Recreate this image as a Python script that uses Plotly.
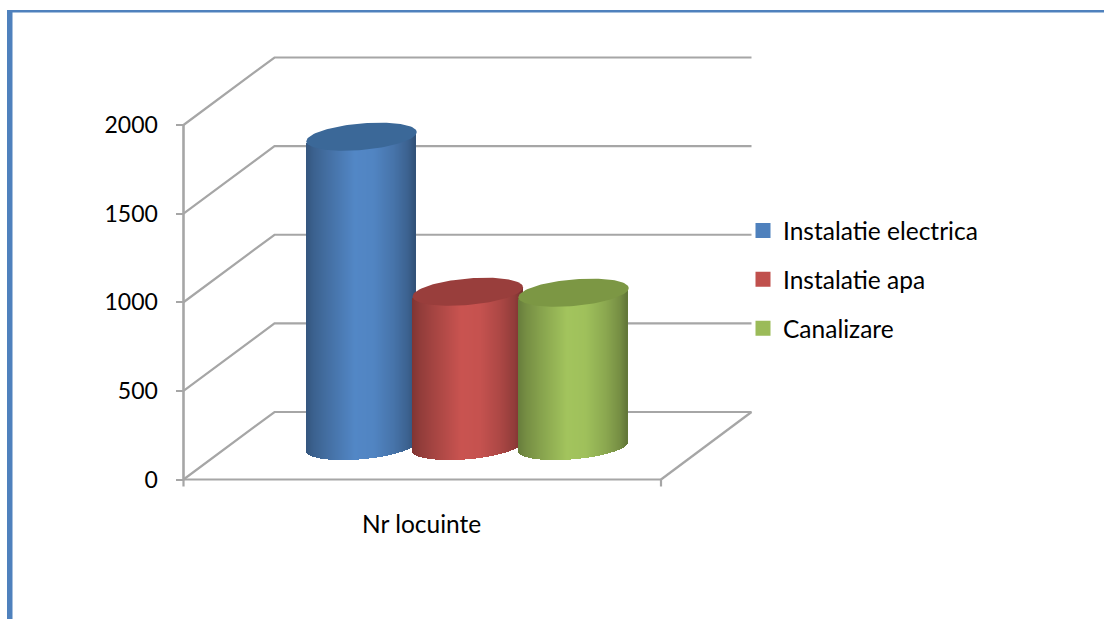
import numpy as np
import plotly.graph_objects as go

# ---- data ----
categories = ["Nr locuinte"]
series_names = ["Instalatie electrica", "Instalatie apa", "Canalizare"]
series_values = [1745, 870, 865]
y_ticks = [0, 500, 1000, 1500, 2000]

# ---- styles ----
side_colors = ["#4f81bd", "#c0504d", "#9bbb59"]
cap_colors = ["#3b6898", "#993e3c", "#7c9744"]
GRID = "#a6a6a6"
FRAME = "#4f81bd"
FONT = "Lato"
W, H = 1104, 619

# ---- geometry of the fake-3D box (x axis is in pixels, y axis in data units) ----
PX = 0.17725            # pixels per data unit
Y0 = 479.5              # pixel row of value 0
X_L, X_R = 183.5, 661
DX, DV = 91, 67.5 / PX  # depth shift of the back wall
CENTERS = [361.5, 467.75, 573.5]
A = 55.25               # cylinder half width, px
B, K = 13.3 / PX, 4.6 / PX  # ellipse half height / tilt in data units
V_MID = 33.5 / PX       # cylinder stands half way in depth

fig = go.Figure()

def line(xs, ys, width=2.2):
    fig.add_trace(go.Scatter(x=xs, y=ys, mode="lines", line=dict(color=GRID, width=width),
                             hoverinfo="skip", showlegend=False, cliponaxis=False))

# back wall + left wall lines
for v in y_ticks:
    line([X_L, X_L + DX, X_L + DX + 477], [v, v + DV, v + DV])
# floor
line([X_L + DX + 477, X_R], [DV, 0])
line([X_L, X_R], [0, 0])
line([X_L, X_L], [0, 2000], 2.6)
line([X_R, X_R], [0, -7 / PX])
line([X_L, X_L], [0, -7 / PX])

shade_pos = [0.0, 0.08, 0.2, 0.45, 0.62, 0.8, 0.93, 1.0]
shade_val = [0.66, 0.76, 0.86, 1.05, 1.03, 0.9, 0.76, 0.62]

def shade(hex_color, f):
    rgb = [int(hex_color[i:i + 2], 16) for i in (1, 3, 5)]
    return "rgb(%d,%d,%d)" % tuple(min(255, int(c * f)) for c in rgb)

# cylinders live on an overlaying pair of axes so that they cover the grid lines
for name, value, cx, side, cap in zip(series_names, series_values, CENTERS, side_colors, cap_colors):
    xs = np.arange(np.ceil(cx - A), np.floor(cx + A)) + 0.5
    u = np.clip((xs - cx) / A, -1, 1)
    lean = K * u                     # right side of the ellipse is higher
    bow = B * np.sqrt(1 - u ** 2)
    lower = V_MID + lean - bow       # front edge of the foot
    upper = value + V_MID + lean - bow + 1 / PX  # front edge of the top, under the cap
    colors = [shade(side, f) for f in np.interp((u + 1) / 2, shade_pos, shade_val)]
    fig.add_trace(go.Bar(x=xs, y=upper - lower, base=lower, width=1.02,
                         xaxis="x2", yaxis="y2",
                         marker=dict(color=colors, line=dict(width=0)),
                         hoverinfo="skip", showlegend=False))
    t = np.linspace(0, 2 * np.pi, 121)
    fig.add_trace(go.Scatter(x=cx + A * np.cos(t),
                             y=value + V_MID + K * np.cos(t) + B * np.sin(t),
                             xaxis="x2", yaxis="y2",
                             mode="lines", fill="toself", fillcolor=cap,
                             line=dict(width=0), hoverinfo="skip", showlegend=False))
    # legend entry
    fig.add_trace(go.Bar(x=[None], y=[None], name=name, legendgroup=name,
                         xaxis="x2", yaxis="y2",
                         marker=dict(color=side, line=dict(color=side, width=3))))

fig.add_annotation(x=(X_L + X_R) / 2 - 0.5, y=-44 / PX, text=categories[0], showarrow=False,
                   font=dict(family=FONT, size=24.5, color="black"), xanchor="center", yanchor="middle")

# frame
fig.add_shape(type="line", xref="paper", yref="paper", x0=9.75 / W, x1=9.75 / W, y0=0, y1=1 - 10 / H,
              line=dict(color=FRAME, width=5.5))
fig.add_shape(type="line", xref="paper", yref="paper", x0=7 / W, x1=1, y0=1 - 11.25 / H, y1=1 - 11.25 / H,
              line=dict(color=FRAME, width=2.5))

y_range = [-(H - Y0) / PX, Y0 / PX]
fig.update_layout(
    width=W, height=H, autosize=False,
    margin=dict(l=0, r=0, t=0, b=0),
    paper_bgcolor="white", plot_bgcolor="rgba(0,0,0,0)",
    barmode="overlay", bargap=0,
    font=dict(family=FONT, size=24.5, color="black"),
    showlegend=True,
    legend=dict(x=743 / W, y=1 - 208 / H, xanchor="left", yanchor="top", bgcolor="rgba(0,0,0,0)",
                tracegroupgap=14, font=dict(family=FONT, size=24.5, color="black"),
                itemclick=False, itemdoubleclick=False),
    xaxis=dict(range=[0, W], visible=False, fixedrange=True),
    xaxis2=dict(range=[0, W], visible=False, fixedrange=True, overlaying="x"),
    yaxis2=dict(range=y_range, visible=False, fixedrange=True, overlaying="y"),
    yaxis=dict(range=y_range, fixedrange=True, anchor="free",
               position=X_L / W, showgrid=False, zeroline=False, showline=False,
               tickmode="array", tickvals=y_ticks, ticks="outside", ticklen=8, tickwidth=2,
               tickcolor=GRID, ticklabelstandoff=13,
               tickfont=dict(family=FONT, size=23, color="black")),
)
fig.write_html("out.html", config=dict(displayModeBar=False),
               post_script="document.body.style.margin='0';")
